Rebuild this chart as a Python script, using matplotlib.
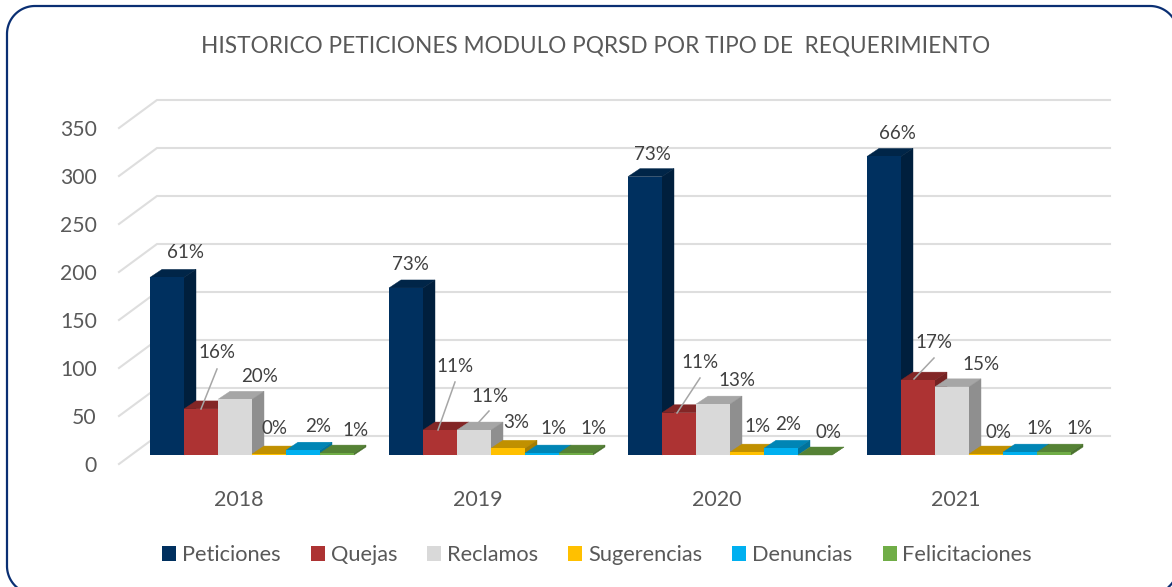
import matplotlib
matplotlib.use("Agg")
import numpy as np
import matplotlib.pyplot as plt
from matplotlib.patches import Patch
from matplotlib.transforms import IdentityTransform

years = ["2018", "2019", "2020", "2021"]
series = ["Peticiones", "Quejas", "Reclamos", "Sugerencias", "Denuncias", "Felicitaciones"]
peticiones = [185, 174, 290, 311]
quejas = [48, 26, 44, 78]
reclamos = [58, 26, 53, 71]
sugerencias = [1, 7, 3, 1]
denuncias = [5, 2, 7, 3]
felicitaciones = [2, 2, 0, 3]
values = [peticiones, quejas, reclamos, sugerencias, denuncias, felicitaciones]
y_ticks = [0, 50, 100, 150, 200, 250, 300, 350]
pct_labels = [
    ["61%", "16%", "20%", "0%", "2%", "1%"],
    ["73%", "11%", "11%", "3%", "1%", "1%"],
    ["73%", "11%", "13%", "1%", "2%", "0%"],
    ["66%", "17%", "15%", "0%", "1%", "1%"],
]
title = "HISTORICO PETICIONES MODULO PQRSD POR TIPO DE  REQUERIMIENTO"

# styling and layout (pixels of the 1172x587 canvas)
W, H = 1172, 587
front_col = ["#00305F", "#AD3333", "#D9D9D9", "#FFC000", "#00B0F0", "#70AD47"]
top_col = ["#002548", "#832626", "#A6A6A6", "#C09000", "#0085B5", "#558235"]
side_col = ["#001F3D", "#752222", "#8F8F8F", "#A67D00", "#00739C", "#4A722E"]
label_px = [
    [(186, 252), (217, 353), (260, 376), (275, 429), (318, 427), (356, 430)],
    [(410, 265), (455, 367), (490, 397), (516, 422), (553, 429), (594, 429)],
    [(652, 154), (700, 363), (737, 381), (757, 426), (788, 424), (828, 432)],
    [(897, 133), (934, 343), (981, 364), (998, 432), (1039, 428), (1079, 428)],
]
leaders_px = [
    ((201, 409), (217, 369)),
    ((438, 430), (455, 382)),
    ((479, 422), (489, 411)),
    ((677, 413), (700, 378)),
    ((914, 379), (934, 358)),
]
TEXT = "#595959"
FONT = "Lato"
plt.rcParams["font.family"] = [FONT, "DejaVu Sans"]

fig = plt.figure(figsize=(W / 100, H / 100), dpi=100, facecolor="white")


def fx(x):
    return x / W


def fy(y):
    return 1 - y / H


# front floor line: x 119..1075, y=0 at px 464, y=350 at px 128
ax = fig.add_axes([fx(119), fy(464), (1075 - 119) / W, (464 - 128) / H])
ax.set_xlim(0, 4)
ax.set_ylim(0, 350)
ax.patch.set_visible(False)
for s in ax.spines.values():
    s.set_visible(False)

cat_px = 956 / 4
val_px = 336 / 350
wall_dx, wall_dy = 38 / cat_px, 28 / val_px
grid_color = "#DEDEDE"
for t in y_ticks:
    ax.plot([0, wall_dx, 4 + 35 / cat_px], [t, t + wall_dy, t + wall_dy], color=grid_color,
            lw=1.5, clip_on=False, zorder=1, solid_joinstyle="miter")

bar_w = 34 / cat_px
start = 31 / cat_px
base = 9 / val_px
dx, dy = 12 / cat_px, 8 / val_px
for s, vals in enumerate(values):
    xs = [i + start + bar_w * (s + 0.5) for i in range(len(years))]
    z = 3 + s
    ax.bar(xs, vals, width=bar_w, bottom=base, color=front_col[s], linewidth=0, zorder=z + 0.5, clip_on=False)
    for x, v in zip(xs, vals):
        l, r = x - bar_w / 2, x + bar_w / 2
        b, t = base, base + v
        ax.fill([l, l + dx, r + dx, r], [t, t + dy, t + dy, t], facecolor=top_col[s], edgecolor=top_col[s],
                lw=0.3, zorder=z, clip_on=False)
        ax.fill([r, r + dx, r + dx, r], [b, b + dy, t + dy, t], facecolor=side_col[s], edgecolor=side_col[s],
                lw=0.3, zorder=z, clip_on=False)

ax.set_yticks(y_ticks)
ax.set_xticks([i + 0.5 for i in range(len(years))])
ax.set_xticklabels(years)
ax.tick_params(axis="y", length=0, pad=16, labelsize=15.2, labelcolor=TEXT)
ax.tick_params(axis="x", length=0, pad=18.5, labelsize=15.5, labelcolor=TEXT)

for row, pos in zip(pct_labels, label_px):
    for txt, (px, py) in zip(row, pos):
        fig.text(fx(px), fy(py), txt, ha="center", va="center", fontsize=13.5, color="#404040", zorder=20)

for (a, b) in leaders_px:
    fig.add_artist(plt.Line2D([fx(a[0]), fx(b[0])], [fy(a[1]), fy(b[1])], color="#A6A6A6", lw=1.1, zorder=15))

fig.text(fx(595.5), fy(45.5), title, ha="center", va="center", fontsize=16.3, color=TEXT)

handles = [Patch(facecolor=c, edgecolor="none", label=n) for c, n in zip(front_col, series)]
fs = 15.7
fspx = fs * 100 / 72
fig.legend(handles=handles, ncol=6, loc="center", bbox_to_anchor=(fx(597), fy(555)), frameon=False,
           fontsize=fs, labelcolor=TEXT, handlelength=14 / fspx, handleheight=14 / fspx,
           handletextpad=6 / fspx, columnspacing=30 / fspx, borderpad=0, borderaxespad=0)

# rounded frame, running off the right and bottom of the canvas (separate visible pieces)
L, R, T, B, rad = 7, 1178, H - 6, H - 594, 28


def arc(cx, cy, a0, a1):
    th = np.radians(np.linspace(a0, a1, 40))
    return cx + rad * np.cos(th), cy + rad * np.sin(th)


def stroke(xs, ys):
    fig.add_artist(plt.Line2D(xs, ys, transform=IdentityTransform(), color="#0A2F73", lw=1.6,
                              zorder=30, solid_capstyle="butt"))


ax1, ay1 = arc(L + rad, T - rad, 180, 90)
ax2, ay2 = arc(R - rad, T - rad, 90, 32)
stroke(np.r_[L, ax1, ax2], np.r_[B + rad, ay1, ay2])
ax3, ay3 = arc(L + rad, B + rad, 180, 232)
stroke(ax3, ay3)
ax4, ay4 = arc(R - rad, B + rad, -50, -30)
stroke(ax4, ay4)

fig.savefig("out.png", dpi=100, facecolor="white")
